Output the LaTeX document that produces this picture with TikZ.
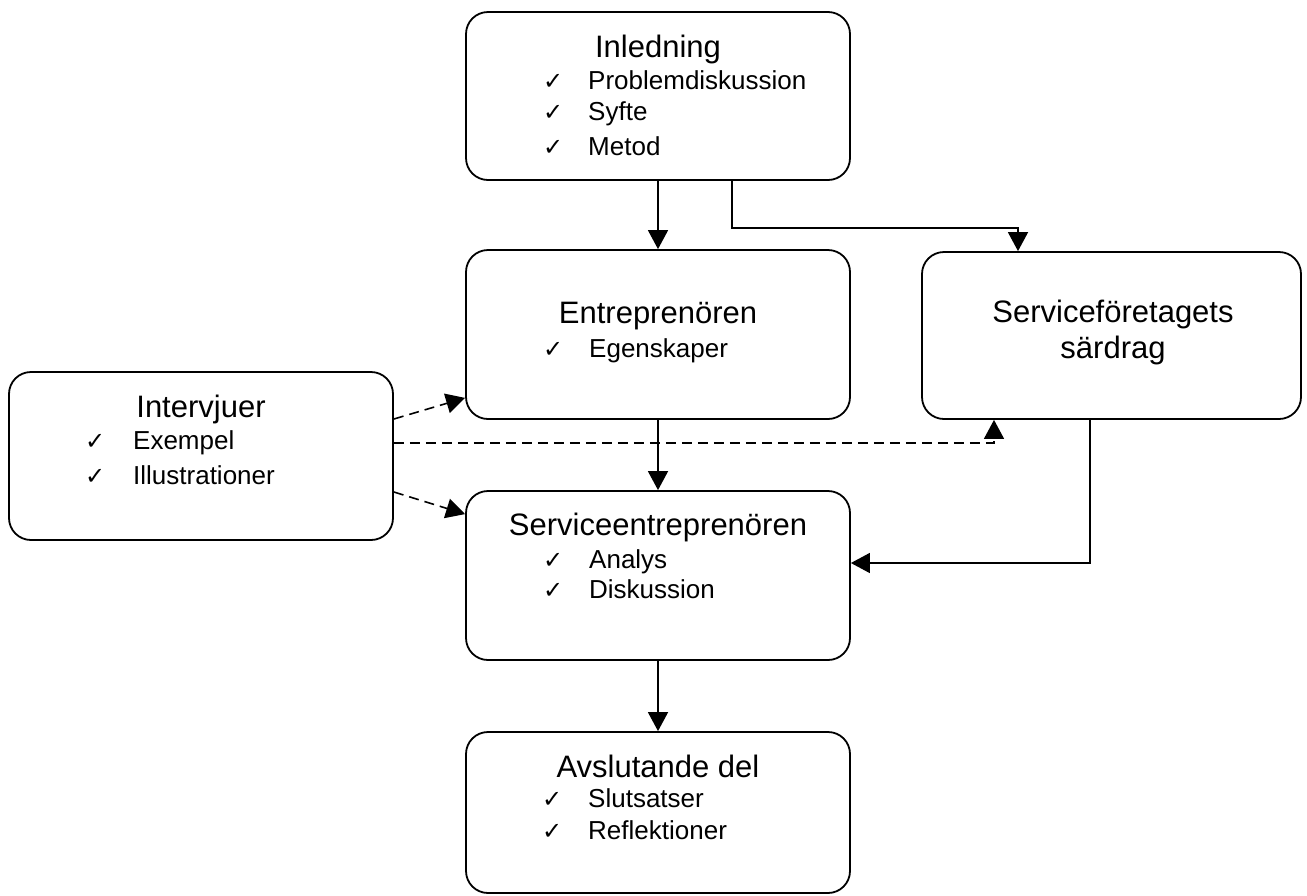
\documentclass[tikz,border=0pt]{standalone}
\usepackage{fontspec}
\setmainfont{Liberation Sans}
\newfontfamily\tickfont{DejaVu Sans}
\usetikzlibrary{arrows.meta}

\tikzset{
	box/.style = {draw, line width=1.8pt, rounded corners=22pt, inner sep=0pt},
	title/.style = {anchor=base, inner sep=0pt, font=\fontsize{31pt}{36pt}\selectfont},
	item/.style = {anchor=base west, inner sep=0pt, font=\fontsize{26pt}{30pt}\selectfont},
	tick/.style = {anchor=base west, inner sep=0pt, font=\tickfont\fontsize{24pt}{28pt}\selectfont},
	conn/.style = {line width=1.6pt, -{Triangle[length=19pt,width=20pt]}},
	dconn/.style = {conn, dash pattern=on 10pt off 6pt}
}

\begin{document}
\begin{tikzpicture}[x=1pt, y=-1pt]
	
	\useasboundingbox (0,0) rectangle (1307,895);
	
	%% BOXES
	\node [box, minimum width=384pt, minimum height=168pt] (inl) at (658,96)    {};
	\node [box, minimum width=384pt, minimum height=169pt] (ent) at (658,334.5) {};
	\node [box, minimum width=379pt, minimum height=167pt] (sft) at (1111.5,335.5) {};
	\node [box, minimum width=384pt, minimum height=168pt] (int) at (201,456)    {};
	\node [box, minimum width=384pt, minimum height=169pt] (sen) at (658,575.5) {};
	\node [box, minimum width=384pt, minimum height=161pt] (avs) at (658,812.5) {};
	
	%% TEXTS
	
	% Inledning
	\node [title] (inlT) at (658,57) {Inledning};
	\node [tick] at (543,89)  {✓};  \node [item] (inl1) at (588,89)  {Problemdiskussion};
	\node [tick] at (543,120) {✓};  \node [item] (inl2) at (588,120) {Syfte};
	\node [tick] at (543,155) {✓};  \node [item] (inl3) at (588,155) {Metod};
	
	% Entreprenoren
	\node [title] (entT) at (658,323) {Entreprenören};
	\node [tick] at (543,357) {✓};  \node [item] (ent1) at (589,357) {Egenskaper};
	
	% Serviceforetagets sardrag
	\node [title] (sftT1) at (1113,322) {Serviceföretagets};
	\node [title] (sftT2) at (1113,358) {särdrag};
	
	% Intervjuer
	\node [title] (intT) at (201,417) {Intervjuer};
	\node [tick] at (85,449) {✓};  \node [item] (int1) at (133,449) {Exempel};
	\node [tick] at (85,484) {✓};  \node [item] (int2) at (133,484) {Illustrationer};
	
	% Serviceentreprenoren
	\node [title] (senT) at (658,535) {Serviceentreprenören};
	\node [tick] at (543,568) {✓};  \node [item] (sen1) at (589,568) {Analys};
	\node [tick] at (543,598) {✓};  \node [item] (sen2) at (589,598) {Diskussion};
	
	% Avslutande del
	\node [title] (avsT) at (658,777) {Avslutande del};
	\node [tick] at (542,807) {✓};  \node [item] (avs1) at (588,807) {Slutsatser};
	\node [tick] at (542,839) {✓};  \node [item] (avs2) at (588,839) {Reflektioner};
	
	%% CONNECTORS
	\coordinate (bend)    at (1018,228);
	\coordinate (sftturn) at (1090,563);
	
	\draw [conn] (inl.south) -- (ent.north);
	\draw [conn] ([xshift=74pt]inl.south) |- (bend) -- (bend |- sft.north);
	\draw [conn] (ent.south) -- (sen.north);
	\draw [conn] (sen.south) -- (avs.north);
	\draw [conn] (sftturn |- sft.south) -- (sftturn) -- (sftturn -| sen.east);
	
	% Dashed
	\draw [dconn] ([yshift=37pt]int.east)  -- ([yshift=22pt]ent.south west);
	\draw [dconn] ([yshift=13pt]int.east)  -| ([xshift=-117.5pt]sft.south);
	\draw [dconn] ([yshift=-36pt]int.east) -- ([yshift=-24pt]sen.north west);
	
\end{tikzpicture}
\end{document}
